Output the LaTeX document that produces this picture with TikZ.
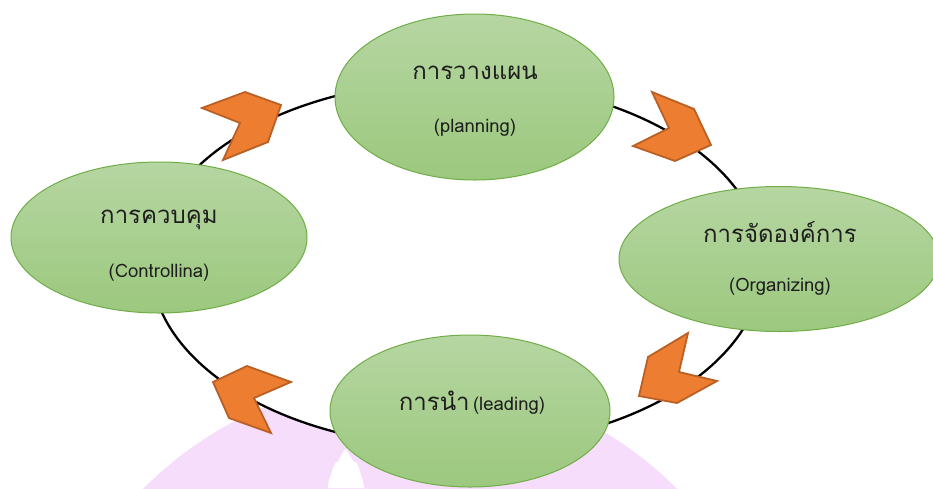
\documentclass[tikz,border=0pt]{standalone}
\usepackage{fontspec}
\newfontfamily\thai[Script=Thai]{Loma}
\usetikzlibrary{shapes.geometric}
\definecolor{gtop}{RGB}{182,214,162}
\definecolor{gbot}{RGB}{156,200,126}
\definecolor{gline}{RGB}{112,173,71}
\definecolor{ofill}{RGB}{237,125,49}
\definecolor{oline}{RGB}{186,96,36}
\definecolor{pinkbg}{RGB}{246,221,251}
\definecolor{txt}{RGB}{30,30,30}
\tikzset{
  stage/.style={ellipse, draw=gline, line width=1pt, top color=gtop, bottom color=gbot, inner sep=0pt},
  bigtext/.style={text=txt, font=\thai\fontsize{24}{28}\selectfont, inner sep=0pt},
  smalltext/.style={text=txt, font=\thai\fontsize{18.5}{22}\selectfont, inner sep=0pt},
  chev/.style={fill=ofill, draw=oline, line width=1.8pt, line join=miter},
}
\begin{document}
\begin{tikzpicture}[x=1pt,y=-1pt]
\useasboundingbox (0,0) rectangle (933,488);
\clip (0,0) rectangle (933,488);
% background pink shape
\fill[pinkbg] (410,755) circle[radius=377];
% white stupa-like shape
\fill[white] (345,449) .. controls (349,453) and (351,458) .. (354,462)
  -- (356,462) .. controls (358,466) and (360,469) .. (360,472)
  -- (361,475) .. controls (363,480) and (364,485) .. (364,488)
  -- (328,488) .. controls (328,484) and (329,479) .. (331,475)
  -- (332,472) .. controls (332,469) and (334,466) .. (336,462)
  -- (338,462) .. controls (340,458) and (342,453) .. (345,449) -- cycle;
% big cycle ellipse
\node[ellipse, draw=black, fill=white, line width=2.3pt, minimum width=612pt, minimum height=366pt, inner sep=0pt] (cycle) at (457,264) {};
% chevrons
\draw[chev] (202,108) -- (245,92) -- (281,105) -- (268,142) -- (223,160) -- (240,123) -- cycle;
\draw[chev] (652,92) -- (694,109) -- (711,145) -- (675,161) -- (633,146) -- (669,128) -- cycle;
\draw[chev] (688,333) -- (679,372) -- (717,381) -- (677,403) -- (639,396) -- (648,357) -- cycle;
\draw[chev] (247,366) -- (291,382) -- (254,398) -- (271,433) -- (229,418) -- (213,382) -- cycle;
% stages
\node[stage, minimum width=279pt, minimum height=166pt] (plan) at (474.5,97) {};
\node[stage, minimum width=296pt, minimum height=151pt] (ctrl) at (159,237.5) {};
\node[stage, minimum width=320pt, minimum height=145pt] (org) at (779,259) {};
\node[stage, minimum width=280pt, minimum height=152pt] (lead) at (470,411) {};
% texts
\node[bigtext] (planT) at (475,73) {การวางแผน};
\node[smalltext] (planE) at (475,128) {(planning)};
\node[bigtext] (ctrlT) at (159,220) {การควบคุม};
\node[smalltext] (ctrlE) at (159,273) {(Controllina)};
\node[bigtext] (orgT) at (780,232) {การจัดองค์การ};
\node[smalltext] (orgE) at (780,287) {(Organizing)};
\node[text=txt, inner sep=0pt] (leadT) at (472,403) {{\thai\fontsize{24}{28}\selectfont การนำ} {\thai\fontsize{18.5}{22}\selectfont (leading)}};
\end{tikzpicture}
\end{document}
